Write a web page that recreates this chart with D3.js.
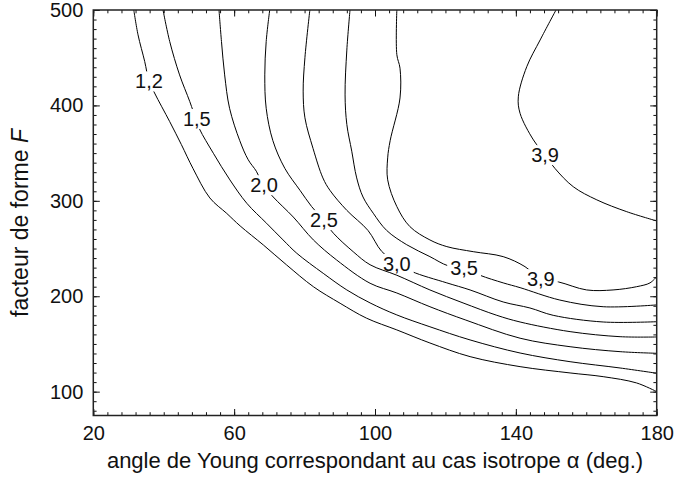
<!DOCTYPE html>
<html>
<head>
<meta charset="utf-8">
<script src="https://cdn.jsdelivr.net/npm/d3@7"></script>
<style>
  html, body { margin: 0; padding: 0; background: #fff; }
  svg { display: block; }
  text { font-family: "Liberation Sans", Arial, sans-serif; fill: #111; }
</style>
</head>
<body>
<svg id="chart" width="677" height="481"></svg>
<script>
// ---- data (alpha in degrees, F) ----
const xMajorTicks = [20, 60, 100, 140, 180];
const yMajorTicks = [100, 200, 300, 400, 500];

const contour12 = [[31.5,500],[32.7,474],[34.6,446],[35.8,426],[37.4,413],[41.7,383],[45.0,359],[48.3,334],[53.1,303],[57.9,286.8],[61.7,273.7],[68.3,253.7],[74.9,232.8],[82.5,210],[90.1,192.6],[97.6,177],[106.2,164.7],[115.6,151],[127.0,136.7],[141.2,126.2],[155.4,119.6],[164.8,115.7],[174.3,109.1],[180,100]];
const contour15 = [[39.8,500],[41.7,467],[44.5,432],[47.4,404],[49.2,385],[50.2,375],[54.1,349.8],[58.8,321.9],[63.6,297.4],[69.2,276.5],[73.9,259],[77.8,245],[85.3,224],[92.0,206.6],[98.6,193],[106.2,180.4],[115.6,168],[127,154.2],[141.2,140.5],[155.4,131.4],[169.6,124.8],[180,119.3]];
const contour20 = [[55.7,500],[56.4,467],[57.3,432],[58.7,397],[61.6,363],[64.0,343],[66.3,331],[68.3,316.6],[71.1,304],[76.8,283],[82.5,259],[89.1,238],[98.6,213.6],[106.2,203.4],[115.6,189],[125.8,175],[141.2,156],[155.4,147.1],[169.6,141.9],[180,140.2]];
const contour25 = [[70.1,500],[69.1,467],[68.7,432],[69.1,397],[71.0,363],[74.4,334],[78.7,311],[82.0,294],[85.3,280],[88.2,266],[93.8,246.7],[98.6,233],[106.2,222],[115.6,206.6],[125.0,193],[134.6,180],[141.2,173],[155.4,162.9],[169.6,157.6],[180,157.3]];
const contour30 = [[81.5,500],[80.1,450],[79.6,415],[80.1,387],[82.4,355],[85.2,324],[87.2,311],[92.0,290],[98.0,269],[101.9,247],[106.2,235],[110.4,226],[120.4,214],[127.0,206.6],[136.4,194],[144.0,187.7],[150.6,180],[164.8,173],[180,173.3]];
const contour35 = [[92.9,500],[92.0,458],[91.5,411],[92.0,380],[93.4,352],[94.8,324],[96.6,304],[99.5,287],[103.3,269],[109.0,254],[115.6,241.5],[120.7,232],[125.3,229.6],[129.8,222],[136.4,214],[141.2,209],[152.5,196],[164.8,189],[180,190.9]];
const contour39a = [[106.2,500],[106.2,453.2],[107.1,439],[107.1,407.8],[104.3,363],[103.6,345],[103.6,322],[106.2,294],[109.9,273],[115.6,259],[120.4,252],[127.9,246.7],[136.4,241.5],[142.6,231],[147.1,218],[152.1,215],[160.1,206.6],[167.6,206.6],[174.3,210],[178.1,214],[180,220.5]];
const contour39b = [[151.4,500],[146.9,468.6],[143.1,440.6],[140.7,409],[141.2,391.7],[145.0,363.8],[148.3,348],[151.1,334],[156.3,314.8],[163.0,301],[171.5,288.6],[180,278.9]];

const contourLines  = [contour12, contour15, contour20, contour25, contour30, contour35, contour39a, contour39b];
const contourLabels = ["1,2", "1,5", "2,0", "2,5", "3,0", "3,5", "3,9", "3,9"];
const labelAlpha    = [35.8, 49.4, 68.5, 85.5, 106.2, 125.3, 147.1, 148.3];
const labelF        = [425.3, 386.0, 316.6, 280.0, 234.0, 229.6, 218.1, 348.1];

const xTitle = "angle de Young correspondant au cas isotrope α (deg.)";
const yTitle = "facteur de forme ";
const yTitleItalic = "F";

// ---- layout ----
const L = 93.3, R = 656.7, T = 10, B = 415.5;
const svg = d3.select("#chart");
const x = d3.scaleLinear().domain([20, 180]).range([L, R]);
const y = d3.scaleLinear().domain([75, 500]).range([B, T]);

const xMinor = d3.range(20, 181, 4);
const yMinor = d3.range(80, 501, 10);

const defs = svg.append("defs");
defs.append("clipPath").attr("id", "plotclip")
  .append("rect").attr("x", L).attr("y", T).attr("width", R - L).attr("height", B - T);

// contour labels (drawn first to measure)
const labelG = svg.append("g").attr("class", "labels");
const labelNodes = contourLabels.map((t, i) =>
  labelG.append("text")
    .attr("x", x(labelAlpha[i]))
    .attr("y", y(labelF[i]))
    .attr("dy", "0.36em")
    .attr("text-anchor", "middle")
    .style("font-size", "20px")
    .text(t));

// masks per contour
contourLines.forEach((c, i) => {
  const bb = labelNodes[i].node().getBBox();
  const m = defs.append("mask").attr("id", "m" + i).attr("maskUnits", "userSpaceOnUse")
    .attr("x", 0).attr("y", 0).attr("width", 677).attr("height", 481);
  m.append("rect").attr("x", 0).attr("y", 0).attr("width", 677).attr("height", 481).attr("fill", "#fff");
  m.append("rect").attr("x", bb.x - 3).attr("y", bb.y + 1).attr("width", bb.width + 6).attr("height", bb.height - 2).attr("fill", "#000");
});

const line = d3.line().x(d => x(d[0])).y(d => y(d[1])).curve(d3.curveCatmullRom.alpha(0.5));
const lineG = svg.insert("g", ".labels").attr("clip-path", "url(#plotclip)");
contourLines.forEach((c, i) => {
  lineG.append("g").attr("mask", `url(#m${i})`)
    .append("path")
    .attr("d", line(c))
    .attr("fill", "none")
    .attr("stroke", "#000")
    .attr("stroke-width", 1);
});

// axes
function styleAxis(g) {
  g.select(".domain").remove();
  g.selectAll(".tick line").attr("stroke", "#111").attr("stroke-width", 1);
  g.selectAll("text").style("font-size", "20px").attr("fill", "#111").style("font-family", '"Liberation Sans", Arial, sans-serif');
}
// bottom
svg.append("g").attr("transform", `translate(0,${B})`)
  .call(d3.axisBottom(x).tickValues(xMinor).tickSize(-3.3).tickFormat("")).call(styleAxis);
svg.append("g").attr("transform", `translate(0,${B})`)
  .call(d3.axisBottom(x).tickValues(xMajorTicks).tickSize(-6.5).tickPadding(10.5).tickFormat(d3.format("d"))).call(styleAxis);
// top
svg.append("g").attr("transform", `translate(0,${T})`)
  .call(d3.axisTop(x).tickValues(xMinor).tickSize(-3.3).tickFormat("")).call(styleAxis);
svg.append("g").attr("transform", `translate(0,${T})`)
  .call(d3.axisTop(x).tickValues(xMajorTicks).tickSize(-6.5).tickFormat("")).call(styleAxis);
// left
svg.append("g").attr("transform", `translate(${L},0)`)
  .call(d3.axisLeft(y).tickValues(yMinor).tickSize(-3.3).tickFormat("")).call(styleAxis);
svg.append("g").attr("transform", `translate(${L},0)`)
  .call(d3.axisLeft(y).tickValues(yMajorTicks).tickSize(-6.5).tickPadding(10).tickFormat(d3.format("d"))).call(styleAxis);
// right
svg.append("g").attr("transform", `translate(${R},0)`)
  .call(d3.axisRight(y).tickValues(yMinor).tickSize(-3.3).tickFormat("")).call(styleAxis);
svg.append("g").attr("transform", `translate(${R},0)`)
  .call(d3.axisRight(y).tickValues(yMajorTicks).tickSize(-6.5).tickFormat("")).call(styleAxis);

// frame
svg.append("rect").attr("x", L).attr("y", T).attr("width", R - L).attr("height", B - T)
  .attr("fill", "none").attr("stroke", "#222").attr("stroke-width", 1.5);

// titles
svg.append("text")
  .attr("x", (L + R) / 2).attr("y", 468)
  .attr("text-anchor", "middle")
  .style("font-size", "22px")
  .text(xTitle);

const yt = svg.append("text")
  .attr("transform", "translate(28,223) rotate(-90)")
  .attr("text-anchor", "middle")
  .style("font-size", "23px");
yt.append("tspan").text(yTitle);
yt.append("tspan").style("font-style", "italic").text(yTitleItalic);
</script>
</body>
</html>
